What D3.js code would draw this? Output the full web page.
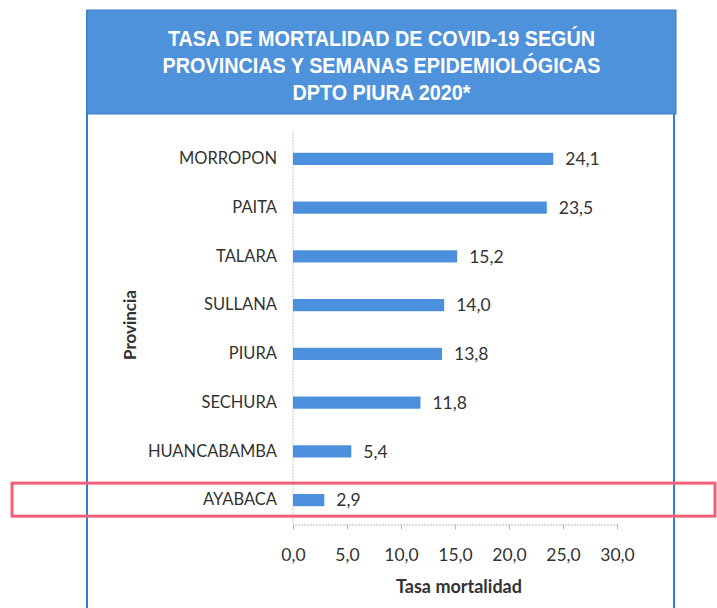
<!DOCTYPE html>
<html>
<head>
<meta charset="utf-8">
<script src="https://cdn.jsdelivr.net/npm/d3@7"></script>
<style>
  html, body { margin: 0; padding: 0; background: #ffffff; }
  svg { display: block; }
</style>
</head>
<body>
<div id="chart"></div>
<script>
// data
const provincias = ["MORROPON", "PAITA", "TALARA", "SULLANA", "PIURA", "SECHURA", "HUANCABAMBA", "AYABACA"];
const tasas = [24.1, 23.5, 15.2, 14.0, 13.8, 11.8, 5.4, 2.9];
const xTicks = [0, 5, 10, 15, 20, 25, 30];
const titulo = ["TASA DE MORTALIDAD DE COVID-19 SEGÚN", "PROVINCIAS Y SEMANAS EPIDEMIOLÓGICAS", "DPTO PIURA 2020*"];
const resaltada = "AYABACA";

let width = 717, height = 608;
let frame = { left: 87, right: 674, top: 10, titleBottom: 114 };
let plot = { left: 293, right: 617, top: 134.5, bottom: 524.5 };

const svg = d3.select("#chart").append("svg")
  .attr("width", width)
  .attr("height", height);

let fmt = v => d3.format(".1f")(v).replace(".", ",");

let x = d3.scaleLinear().domain([0, 30]).range([plot.left, plot.right]);
let y = d3.scaleBand().domain(provincias).range([plot.top, plot.bottom]).paddingInner(0.75).paddingOuter(0.375);

// frame + title box
svg.append("line")
  .attr("x1", frame.left).attr("x2", frame.left)
  .attr("y1", frame.top).attr("y2", height)
  .attr("stroke", "#2f7fd0").attr("stroke-width", 2);
svg.append("line")
  .attr("x1", frame.right).attr("x2", frame.right)
  .attr("y1", frame.top).attr("y2", height)
  .attr("stroke", "#2f7fd0").attr("stroke-width", 2);
svg.append("rect")
  .attr("x", frame.left).attr("y", frame.top)
  .attr("width", frame.right - frame.left + 2)
  .attr("height", frame.titleBottom - frame.top)
  .attr("fill", "#4f92dc")
  .attr("stroke", "#3f7cc4").attr("stroke-width", 1);

// title: condensed by squeezing horizontally (no narrow font installed)
let cx = (frame.left + frame.right) / 2 + 1;
svg.append("g")
  .attr("transform", "translate(" + cx + ",0) scale(0.9,1)")
  .selectAll("text")
  .data(titulo)
  .join("text")
  .attr("x", 0)
  .attr("y", (d, i) => 46 + i * 27)
  .attr("text-anchor", "middle")
  .attr("fill", "#ffffff")
  .style("font-family", "'Liberation Sans', Arial, sans-serif")
  .style("font-weight", "bold")
  .style("font-size", "22px")
  .text(d => d);

// axes
const xAxis = svg.append("g")
  .attr("transform", "translate(0," + plot.bottom + ")")
  .call(d3.axisBottom(x).tickValues(xTicks).tickSize(5).tickPadding(19).tickFormat(fmt));
xAxis.select(".domain").attr("stroke", "#b8b8b8").attr("stroke-dasharray", "2,1");
xAxis.selectAll(".tick line").attr("stroke", "#b8b8b8");
xAxis.selectAll(".tick text")
  .attr("fill", "#333")
  .style("font-family", "Lato, sans-serif")
  .style("font-size", "17.5px");

const yAxis = svg.append("g")
  .attr("transform", "translate(" + plot.left + ",0)")
  .call(d3.axisLeft(y).tickSize(0).tickPadding(16));
yAxis.select(".domain").attr("stroke", "#c8c8c8").attr("stroke-dasharray", "2,1")
  .attr("d", "M0," + (plot.top - 4) + "V" + plot.bottom);
yAxis.selectAll(".tick text")
  .attr("fill", "#333")
  .style("font-family", "Lato, sans-serif")
  .style("font-size", "16.5px");

// bars
svg.append("g").selectAll("rect")
  .data(provincias)
  .join("rect")
  .attr("x", x(0))
  .attr("y", d => y(d))
  .attr("width", (d, i) => x(tasas[i]) - x(0))
  .attr("height", y.bandwidth())
  .attr("fill", "#4a90dc");

// value labels
svg.append("g").selectAll("text")
  .data(provincias)
  .join("text")
  .attr("x", (d, i) => x(tasas[i]) + 12)
  .attr("y", d => y(d) + y.bandwidth() / 2)
  .attr("dy", "0.35em")
  .attr("fill", "#333")
  .style("font-family", "Lato, sans-serif")
  .style("font-size", "17.5px")
  .text((d, i) => fmt(tasas[i]));

// axis titles
svg.append("text")
  .attr("x", (plot.left + plot.right) / 2 + 4)
  .attr("y", 593)
  .attr("text-anchor", "middle")
  .attr("fill", "#333")
  .style("font-family", "Lato, sans-serif")
  .style("font-weight", "bold")
  .style("font-size", "18px")
  .text("Tasa mortalidad");

svg.append("text")
  .attr("transform", "translate(136," + 325 + ") rotate(-90)")
  .attr("text-anchor", "middle")
  .attr("fill", "#333")
  .style("font-family", "Lato, sans-serif")
  .style("font-weight", "bold")
  .style("font-size", "17px")
  .text("Provincia");

// red highlight box round the last province
let yc = y(resaltada) + y.bandwidth() / 2;
svg.append("rect")
  .attr("x", 12)
  .attr("y", yc - 17)
  .attr("width", 703)
  .attr("height", 33)
  .attr("fill", "none")
  .attr("stroke", "#f0607a")
  .attr("stroke-width", 3);
</script>
</body>
</html>
